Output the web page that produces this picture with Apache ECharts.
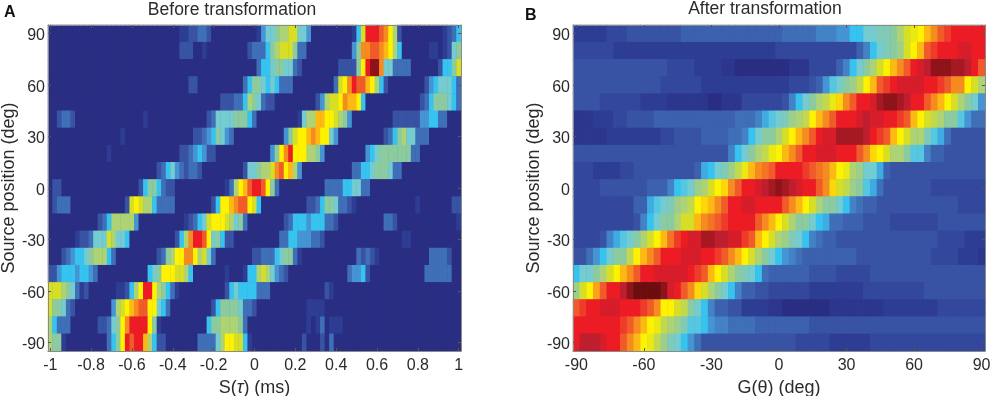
<!DOCTYPE html>
<html>
<head>
<meta charset="utf-8">
<style>html,body{margin:0;padding:0;background:#fff}#c{width:993px;height:396px;filter:blur(0.35px)}</style>
<script src="https://cdn.jsdelivr.net/npm/echarts@6/dist/echarts.min.js"></script>
</head>
<body>
<div id="c"></div>
<script>
// Colour-level readings per cell. Rows run from source position +90 (top) to -90 (bottom).
const A_p90=[0,0,0,0,0,0,0,0,0,0, 0,0,0,0,0,0,0,0,0,0, 0,0,0,0,0,0,0,0,0,1, 1,2,2,3,3,2,0,0,0,0, 0,0,0,0,0,0,1,4,6,6, 7,8,8,9,9,6,6,4,0,0, 0,0,0,0,0,0,0,1,5,9, 14,14,14,13,12,10,8,2,0,0, 0,0,0,0,0,0,0,1,2,3, 5];
const A_p80=[0,0,0,0,0,0,0,0,0,0, 0,0,0,0,0,0,0,0,0,0, 0,0,0,0,0,0,0,0,0,2, 2,2,0,0,1,0,0,0,0,0, 0,0,0,0,2,3,3,3,5,7, 8,9,9,9,7,3,3,0,0,0, 0,0,0,0,0,0,0,4,7,12, 12,13,13,12,11,10,8,5,0,0, 0,0,0,0,1,1,0,1,2,6, 7];
const A_p70=[0,0,0,0,0,0,0,0,0,0, 0,0,0,0,0,0,0,0,0,0, 0,0,0,0,0,0,0,0,0,0, 0,0,0,0,0,0,0,0,0,0, 0,0,0,0,0,0,3,5,5,6, 7,7,6,6,3,2,0,0,0,0, 0,0,0,0,2,2,2,2,7,10, 14,16,16,12,6,6,3,3,3,3, 0,0,0,0,0,0,2,5,5,7, 9];
const A_p60=[0,0,0,0,0,0,0,0,0,0, 0,0,0,0,0,0,0,0,0,0, 0,0,0,0,0,0,0,0,0,0, 0,2,2,0,0,0,0,0,0,0, 0,0,0,3,5,7,7,6,5,6, 5,3,3,3,0,0,0,0,0,0, 0,0,0,3,9,10,12,14,13,13, 11,10,8,5,2,0,0,0,0,0, 0,0,0,2,4,5,6,6,6,5, 3];
const A_p50=[0,0,0,0,0,0,0,0,0,0, 0,0,0,0,0,0,0,0,0,0, 0,0,0,0,0,0,0,0,0,0, 0,0,0,0,0,0,0,0,2,2, 2,3,3,5,8,7,6,3,2,2, 0,0,0,0,0,0,0,0,0,2, 4,8,9,9,10,12,11,11,10,5, 0,0,0,0,0,0,0,0,0,0, 0,0,2,3,5,7,7,7,6,5, 3];
const A_p40=[0,0,2,3,3,2,0,0,0,0, 0,0,0,0,0,0,0,0,0,0, 0,1,0,0,0,0,0,0,0,0, 0,0,0,0,0,2,3,6,6,6, 6,7,7,7,5,3,0,0,0,0, 0,0,0,0,0,1,6,8,8,11, 11,10,10,9,8,7,4,0,0,0, 0,0,0,0,0,0,2,2,2,2, 2,2,4,4,5,5,3,3,0,0, 0];
const A_p30=[0,0,0,0,0,0,0,0,0,0, 0,0,0,0,0,0,1,0,0,0, 0,0,0,0,0,0,0,0,0,0, 0,0,2,2,3,4,5,7,6,4, 3,0,0,0,0,0,0,0,0,0, 0,0,4,7,9,10,10,11,12,11, 10,10,6,4,0,0,0,0,0,0, 0,0,0,0,2,3,5,7,8,6, 6,3,3,3,0,0,0,0,0,0, 0];
const A_p20=[0,0,0,0,0,0,0,0,0,0, 0,0,0,1,0,0,0,0,0,0, 0,0,0,0,0,0,0,0,0,2, 2,3,4,5,4,2,2,0,0,0, 0,0,0,0,0,0,0,0,0,4, 7,10,12,14,10,10,10,8,8,7, 4,0,0,0,0,0,0,0,0,0, 4,5,6,7,7,7,7,7,7,7, 3,3,0,0,0,0,0,0,0,0, 0];
const A_p10=[0,0,0,0,0,0,0,0,0,0, 0,0,0,0,0,0,0,0,0,0, 0,0,0,0,2,3,5,6,4,3, 2,3,3,2,0,0,0,0,0,0, 0,0,0,2,6,6,7,8,8,9, 12,13,10,11,8,4,0,0,0,0, 0,0,0,0,0,0,0,3,3,5, 5,6,7,7,7,6,3,3,0,0, 0,0,0,0,0,0,0,0,0,0, 0];
const A_0=[0,2,2,0,0,0,0,0,0,0, 0,0,0,0,0,0,0,0,0,0, 2,5,7,7,5,3,2,2,0,0, 0,0,0,0,0,0,0,0,0,1, 3,8,10,11,13,14,14,13,10,7, 3,0,0,0,0,0,0,0,0,0, 0,3,3,3,3,5,5,6,6,3, 3,0,0,0,0,0,0,0,0,0, 0,0,0,0,0,0,0,0,0,0, 0];
const A_m10=[0,2,3,3,3,0,0,0,0,0, 0,0,0,0,0,0,0,2,9,10, 9,8,8,5,3,3,3,3,0,0, 0,0,0,0,0,0,2,5,10,10, 11,12,13,13,10,9,5,0,0,0, 0,0,0,0,0,0,0,2,2,3, 5,7,7,6,3,3,2,1,0,0, 0,0,0,0,0,0,0,0,0,0, 0,1,0,0,0,0,0,0,0,2, 2];
const A_m20=[0,0,0,0,0,0,0,0,0,0, 0,2,3,5,8,8,8,8,8,4, 0,0,0,0,0,0,0,0,0,0, 1,2,3,5,6,9,10,10,10,9, 8,6,7,3,0,0,0,0,0,0, 0,0,2,3,5,5,5,4,5,5, 5,3,3,2,0,0,0,0,0,0, 0,0,0,0,3,3,2,0,0,0, 0,0,0,0,0,0,0,0,0,0, 1];
const A_m30=[0,0,0,0,0,0,1,2,2,3, 6,6,6,9,8,6,6,5,0,0, 0,0,0,0,0,0,0,0,2,5, 8,12,14,14,13,10,6,7,5,2, 2,0,0,0,0,0,0,0,0,0, 0,3,3,5,5,4,4,4,3,3, 2,0,0,0,0,0,0,0,0,0, 0,0,0,0,0,0,0,0,1,1, 0,0,0,0,0,0,0,0,0,0, 0];
const A_m40=[0,0,0,2,3,4,5,5,6,7, 8,8,8,5,3,0,0,0,0,0, 0,0,0,0,2,3,7,8,10,10, 12,12,10,8,9,6,3,0,0,0, 0,0,0,0,0,2,2,3,3,3, 5,6,7,7,3,1,0,0,0,0, 0,0,0,0,0,0,0,0,3,2, 3,2,1,0,0,0,0,0,0,0, 0,0,0,0,3,3,3,3,2,0, 0];
const A_m50=[2,2,4,5,5,5,4,5,5,4, 3,0,0,0,0,0,0,0,0,0, 0,0,5,6,7,10,10,10,9,9, 8,5,0,0,0,0,0,0,0,1, 0,0,0,1,5,5,8,9,8,6, 4,3,2,0,0,0,0,0,0,0, 0,0,0,0,0,0,3,4,4,5, 2,0,0,0,0,0,0,0,0,0, 0,0,0,3,3,3,3,3,3,0, 0];
const A_m60=[9,9,9,8,7,6,3,1,2,0, 0,0,0,0,0,1,1,2,5,8, 10,14,14,10,8,7,5,3,1,0, 0,0,0,0,0,0,0,0,0,2, 5,6,5,5,5,5,3,3,3,0, 0,0,0,0,0,0,0,0,0,0, 0,2,1,0,0,0,0,0,0,0, 0,0,0,0,0,0,0,0,0,0, 0,0,0,0,0,0,0,0,0,0, 0];
const A_m70=[9,7,7,6,3,2,0,0,0,0, 0,0,0,0,4,8,9,10,11,12, 13,13,10,10,6,5,3,0,0,0, 0,0,0,0,0,0,2,5,7,7, 7,7,6,3,3,2,0,0,0,0, 0,0,0,0,0,0,0,1,1,1, 1,0,0,0,0,0,0,0,0,0, 0,0,0,0,0,0,0,0,0,0, 0,0,0,0,0,0,0,0,0,0, 0];
const A_m80=[8,5,3,3,3,0,0,0,0,0, 0,2,2,3,6,7,10,12,14,14, 14,14,10,7,1,0,0,0,0,0, 0,0,0,0,0,5,7,7,8,8, 8,8,7,3,0,0,0,0,0,0, 0,0,0,0,0,0,0,1,0,1, 3,0,1,1,1,0,0,0,0,0, 0,0,0,0,0,0,0,0,0,0, 0,0,0,0,0,0,0,0,0,0, 0];
const A_m90=[8,7,7,1,0,0,0,0,0,0, 0,0,0,3,5,7,10,14,13,14, 14,11,8,5,2,2,0,0,0,0, 0,0,0,3,3,3,3,6,8,10, 10,9,9,5,1,0,0,0,0,0, 0,0,0,0,0,0,2,0,0,0, 2,0,3,0,0,0,0,0,0,0, 0,0,0,0,0,0,0,0,0,0, 0,0,0,0,0,0,0,0,0,0, 0];

const B_p90=[1,1,1,1,1,1.5,1.5,1.5,2,2, 2,2,2,2,2,2,2.5,2.5,2.5,2.5, 2.5,2.5,2.5,2.5,2.5,2.5,2.5,2.5,2.5,2.5, 2.5,3,3,3,3,3,3.5,3.5,3.5,4, 4,5,5,6,6,6.5,6.5,7,8,9, 9.5,10,11,12,13,13.5,14,14,14,14, 14];
const B_p80=[1.5,1.5,1.5,1.5,1.5,1.5,1,1,1,1, 1,1,1,1,1,1,1,1,1,1, 1,1,1,1,1,1,1,1,1,1, 1.5,1.5,1.5,1.5,1.5,1.5,1.5,1.5,1.5,1.5, 1.5,1.5,2.5,3.5,5,6,6.5,7,7.5,9, 10,11,13,13.5,14,14,14,14.5,14.5,14, 14];
const B_p70=[2,2,2,2,2,2,2,2,2,2, 2,2,2,2,1.5,1.5,1.5,1.5,1,1, 1,1,0.5,0.5,0,0,0,0,0,0, 0,0,0.5,0.5,0.5,1.5,1.5,1.5,1.5,2.5, 3.5,5,6,7,8,9,10,11,12,13, 14,14.5,15,16,16,16,15.5,15.5,15,14, 13];
const B_p60=[2,2,2,2,2,2,2,2,2,2, 2,2,2,1.5,1.5,1.5,1.5,1.5,1.5,1, 1,1,1,1,1,1,1,1,1,1, 1,1,1.5,1.5,1.5,2,2.5,4,5.5,6, 7,7.5,8.5,10,11,13,13.5,14,14.5,14.5, 14.5,14.5,14,14,13.5,13,12,12,10,9, 8];
const B_p50=[2,2,2,2,1.5,1.5,1.5,1.5,1.5,1.5, 1,1,1,1,0.5,0.5,0.5,0.5,0.5,0.5, 0,0,0.5,0.5,0.5,1.5,1.5,1.5,1.5,1.5, 1.5,2,3.5,5,6,7,8,8.5,9.5,10.5, 12,13,14,14,14.5,15.5,16,16,15.5,15, 14,14,13,12,11,10,9,8,7,6, 4];
const B_p40=[0.5,0.5,0.5,1,1,1,1.5,1.5,2,2, 2,2,2.5,2.5,2.5,2.5,2.5,2.5,2.5,2.5, 2.5,2.5,2.5,2.5,3,3,3,3.5,4.5,5.5, 6,6.5,7.5,8,8.5,10,11,12,13,14, 14,14,14.5,15,14.5,14.5,14,14,13.5,13, 11,10,9,8.5,8,7,7,5.5,4,3, 3];
const B_p30=[0.5,0.5,0.5,0.5,0.5,1,1,1,1,1, 1,1,1,1.5,1.5,2,2,2,2,2.5, 2.5,2.5,2.5,3,3,3.5,5,6,7,7, 8,9,10,11,12,13,14,14.5,14.5,15.5, 15.5,15.5,15.5,15,14,13.5,13,11,10,9, 8,8,6.5,5.5,4.5,3,2,2,2,2, 2];
const B_p20=[2,2,2,2,2,2,2,2,2,2, 2,2,2,2,2,2,2,2,2,2, 2,2,2,3.5,5,6,7,8,8.5,9.5, 10,11,12,13,14,14,14.5,14.5,14.5,14, 14,14,13,12,10.5,10,9,8,8,7, 5.5,5.5,3.5,2.5,2.5,2,2,2,2,2, 2];
const B_p10=[1.5,1.5,1.5,1,1,1,1,1.5,1.5,2, 2,2,2,2,2,2,2,2,2.5,4.5, 5,6,6.5,7.5,8.5,9.5,11,12,12.5,13, 14,14,14,14,13.5,13,12.5,12,11,10, 9.5,8,7.5,6,6,4.5,2.5,2,2,2, 2,2,2,2,2,2,2,2,2,2, 2];
const B_0=[1.5,1.5,1.5,1.5,2,2,2,2,2,2, 2,2.5,2.5,2.5,3.5,5,5.5,6,7.5,8, 9,10,10.5,12,13,14,14,14.5,15,15.5, 16,15.5,15,14.5,14,14,13,12,10.5,9, 8.5,7.5,7,5.5,4.5,3,2,2,2,2, 2,2,2,1.5,1.5,1.5,1.5,1.5,1.5,1.5, 1.5];
const B_m10=[1.5,1.5,1.5,1.5,1.5,1.5,1.5,1.5,1.5,2.5, 2.5,4.5,5.5,6,6.5,7.5,8,8.5,10,10.5, 11,12,13,14,14,14.5,14.5,14,14,14, 14,13,12,11,10,9,8,7,7,6, 5,3.5,3,2.5,2.5,2,2,2,2,2, 2,2,2,2,2,2,2,1.5,1.5,1.5, 1.5];
const B_m20=[1.5,1.5,1.5,1.5,1.5,1.5,1.5,1.5,1.5,2, 3.5,5,6,7,7,8,9,9,11,12, 12.5,13,13.5,14,14,14,14,13,12,11, 10,9,8,7,7,6,5,4.5,3,3, 2.5,2.5,2.5,2,2,2,2,1.5,1.5,1.5, 1.5,1.5,1.5,1.5,2,2,2,2,2,2, 2];
const B_m30=[1.5,1.5,1.5,1.5,2,3.5,4.5,5.5,6,7, 8,9,10,11,12.5,13.5,14,14.5,14.5,15.5, 15.5,15,15,14.5,14.5,13.5,13,11,10,9, 8,7.5,6.5,6,5,3.5,3,2.5,2.5,2, 2,2,2,2,2,2,2,2,2,2, 2,2,2,2,1.5,1.5,1.5,1.5,1,1, 1];
const B_m40=[2,2,3,4,5,6,7,7,8.5,10, 11,12,13,14,14,14,14.5,14.5,14.5,14, 14,13.5,13,12,11,10,9,8,7,6, 5,4,3.5,3,2.5,2.5,2.5,2.5,2.5,2.5, 2.5,2.5,2,2,2,2,2,2,2,2, 2,2,2,1.5,1.5,1.5,1.5,1,1,1, 0.5];
const B_m50=[5,6,6,7,8,9,10,11,12,13, 14,14,14.5,14.5,14.5,14.5,14.5,14,13.5,13, 11,10,9,8,7,6.5,6,5,3,2.5, 2.5,2.5,2.5,2.5,2.5,2,2,2,2,1.5, 1.5,1.5,1.5,1.5,2,2,2,2,2,2, 2,2,2,2,2,2,2,2,2,2, 2];
const B_m60=[7.5,9,10,11.5,13,14,14,15,16,17, 17,17,17,16,14.5,14,13,12,10.5,9, 8,7,6,5,3.5,2.5,2.5,2,2,1.5, 1.5,1.5,1.5,1.5,1.5,1,1,1,1,1, 1,1,1,1.5,1.5,1.5,1.5,1.5,1.5,1.5, 1.5,1.5,2,2,2,2,2,2,2,2, 2];
const B_m70=[13,13.5,14,14,14.5,14.5,14.5,14,14,14, 13.5,13,12,10,10,9,8.5,7,6,5, 3.5,2.5,2.5,2,2,1,1,1,1,0.5, 0.5,0,0,0,0,0,0,0,0.5,0.5, 0.5,0.5,0.5,0.5,0.5,0.5,1,1,1,1, 1,1,1,1,1.5,1.5,1.5,1.5,1.5,1.5, 1.5];
const B_m80=[14,14,14,14,14,14,14,13.5,13,12, 11,10,9.5,8.5,8,7.5,6.5,5.5,5.5,5, 4,3.5,3.5,3,3,3,3,2.5,2.5,2.5, 2.5,2.5,2.5,2.5,2.5,2,2,2,2,2, 2,2,2,2,2,2,2,2,2,2, 2,2,2,2,2,2,2,2,2,2, 2];
const B_m90=[14,15,15,15,14.5,14,14,13,12,11, 10,9.5,8.5,7.5,6.5,6,5,4,3,2, 2,2,2,2,2,2,2,2,2,2, 2,2,2,1.5,1.5,1.5,1.5,1.5,1,1, 1,1,1,1,1.5,1.5,1.5,1.5,1.5,1.5, 1.5,1.5,1.5,1.5,1.5,1.5,1.5,1.5,1.5,1.5, 1.5];

const rowsA=[A_p90,A_p80,A_p70,A_p60,A_p50,A_p40,A_p30,A_p20,A_p10,A_0,A_m10,A_m20,A_m30,A_m40,A_m50,A_m60,A_m70,A_m80,A_m90];
const rowsB=[B_p90,B_p80,B_p70,B_p60,B_p50,B_p40,B_p30,B_p20,B_p10,B_0,B_m10,B_m20,B_m30,B_m40,B_m50,B_m60,B_m70,B_m80,B_m90];

const sourcePositions=[-90,-80,-70,-60,-50,-40,-30,-20,-10,0,10,20,30,40,50,60,70,80,90];
const xTickLabelsA=['-1','-0.8','-0.6','-0.4','-0.2','0','0.2','0.4','0.6','0.8','1'];
const xTickLabelsB=['-90','-60','-30','0','30','60','90'];
const colorLevels=['#2A2E83','#2E3D94','#3853A4','#3F6FB7','#4594D3','#36C3F0','#74CBD0','#8CCB9F','#ADD374','#D6DF26','#FFF200','#FDB913','#F68B1F','#F15A29','#ED1C24','#BE1E2D','#8E1419','#6C0E10'];

const FONT='"Liberation Sans", Arial, sans-serif';
const TXT='#2b2b2b', LINE='#8a8a8a', TICK='#555';

const colsA=rowsA[0].map((_,i)=>String(i));
const colsB=rowsB[0].map((_,i)=>String(i));
const yCats=sourcePositions.map(String);

function cells(rows){
  const out=[];
  rows.forEach((row,r)=>row.forEach((v,c)=>out.push([c,18-r,v])));
  return out;
}
function xAxes(cols,step,labels,grid,name){
  const base={type:'category',data:cols,gridIndex:grid,boundaryGap:true,z:10,
    axisLine:{show:true,onZero:false,lineStyle:{color:LINE,width:1}},
    axisTick:{show:true,inside:true,length:3,alignWithLabel:true,interval:step-1,lineStyle:{color:TICK,width:1}},
    splitLine:{show:false}};
  return [
    Object.assign({},base,{position:'bottom',name:name,nameLocation:'middle',nameGap:27,
      nameTextStyle:{fontFamily:FONT,fontSize:18,color:TXT,rich:{n:{fontFamily:FONT,fontSize:18,color:TXT},i:{fontFamily:FONT,fontSize:18,fontStyle:'italic',color:TXT}}},
      axisLabel:{show:true,interval:step-1,margin:7,fontFamily:FONT,fontSize:16,color:TXT,
        formatter:(v,i)=>labels[i/step]}}),
    Object.assign({},base,{position:'top',axisLabel:{show:false}})
  ];
}
function yAxes(grid,gap){
  const base={type:'category',data:yCats,gridIndex:grid,boundaryGap:true,z:10,
    axisLine:{show:true,onZero:false,lineStyle:{color:LINE,width:1}},
    axisTick:{show:true,inside:true,length:3,alignWithLabel:true,interval:2,lineStyle:{color:TICK,width:1}},
    splitLine:{show:false}};
  return [
    Object.assign({},base,{position:'left',name:'Source position (deg)',nameLocation:'middle',nameGap:gap,
      nameTextStyle:{fontFamily:FONT,fontSize:18,color:TXT},
      axisLabel:{show:true,interval:2,margin:3,fontFamily:FONT,fontSize:16,color:TXT,
        formatter:v=>'{a|'+v+'}',
        rich:{a:{fontFamily:FONT,fontSize:16,color:TXT,padding:[5,0,0,0]}}}}),
    Object.assign({},base,{position:'right',axisLabel:{show:false}})
  ];
}
const chart=echarts.init(document.getElementById('c'),null,{renderer:'canvas'});
chart.setOption({
  animation:false,
  backgroundColor:'#fff',
  title:[
    {text:'Before transformation',left:232,top:1,padding:0,textAlign:'center',textStyle:{fontFamily:FONT,fontSize:17.5,fontWeight:'normal',color:TXT}},
    {text:'After transformation',left:765,top:0,padding:0,textAlign:'center',textStyle:{fontFamily:FONT,fontSize:17.5,fontWeight:'normal',color:TXT}},
    {text:'A',left:4,top:5,padding:0,textStyle:{fontFamily:FONT,fontSize:16,fontWeight:'bold',color:'#111'}},
    {text:'B',left:525,top:8,padding:0,textStyle:{fontFamily:FONT,fontSize:16,fontWeight:'bold',color:'#111'}}
  ],
  grid:[
    {left:48,top:25,width:413,height:326,show:true,backgroundColor:colorLevels[0],borderWidth:0,outerBoundsMode:'none'},
    {left:573,top:25,width:412,height:326,show:true,backgroundColor:colorLevels[2],borderWidth:0,outerBoundsMode:'none'}
  ],
  xAxis:[
    ...xAxes(colsA,9,xTickLabelsA,0,'{n|S(}{i|τ}{n|) (ms)}'),
    ...xAxes(colsB,10,xTickLabelsB,1,'G(θ) (deg)')
  ],
  yAxis:[...yAxes(0,30),...yAxes(1,30)],
  visualMap:{show:false,type:'continuous',min:0,max:colorLevels.length-1,dimension:2,seriesIndex:[0,1],inRange:{color:colorLevels}},
  series:[
    {type:'heatmap',xAxisIndex:0,yAxisIndex:0,data:cells(rowsA),itemStyle:{borderWidth:0},emphasis:{disabled:true},progressive:0},
    {type:'heatmap',xAxisIndex:2,yAxisIndex:2,data:cells(rowsB),itemStyle:{borderWidth:0},emphasis:{disabled:true},progressive:0}
  ]
});
</script>
</body>
</html>
